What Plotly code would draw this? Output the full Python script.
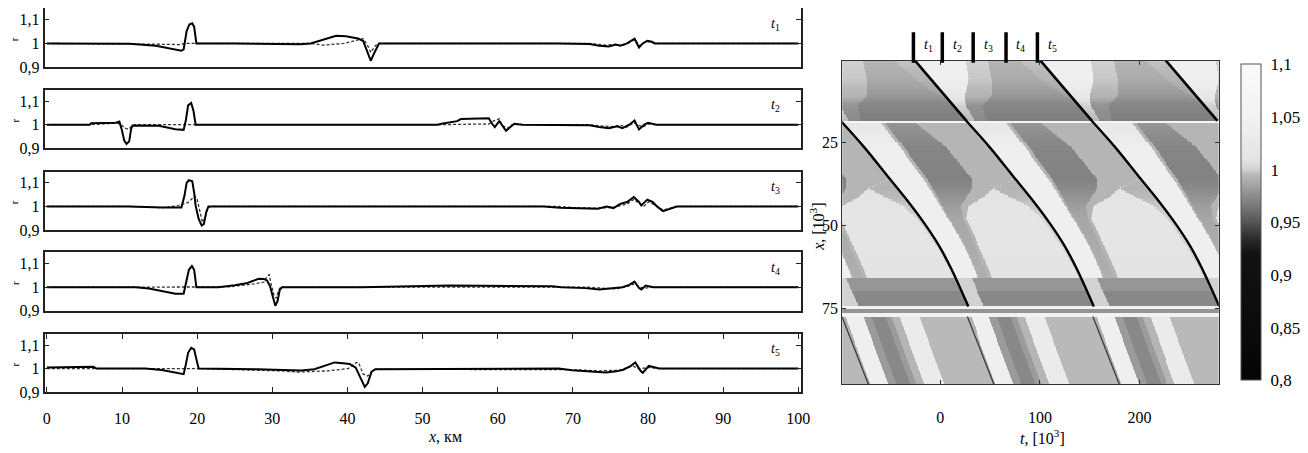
import numpy as np
import plotly.graph_objects as go

# ---------------- left panels: r(x) profiles ----------------
P1_SOLID_KM = [0, 8, 11, 14.5, 17.9, 18.2, 18.6, 18.96, 19.35, 19.6, 19.9, 25, 31.1, 33.7, 35.1, 37.2, 38.5, 39.8,
               41.4, 42.1, 42.7, 43.1, 43.6, 44.2, 67.8, 72.2, 73.5, 74.8, 75.7, 76.3, 77.2, 78.2, 78.8, 79.3, 79.9,
               80.5, 80.9, 100]
P1_SOLID_R = [1.0, 1.0, 0.999, 0.99, 0.969, 0.975, 1.052, 1.08, 1.085, 1.07, 1.0, 1.0, 0.997, 0.997, 1.0, 1.018, 1.032,
              1.03, 1.021, 1.01, 0.962, 0.927, 0.962, 1.0, 1.0, 0.998, 0.99, 0.987, 0.995, 0.99, 1.0, 1.02, 0.983, 1.0,
              1.011, 1.007, 1.0, 1.0]
P1_DASH_KM = [0, 11, 14, 17.9, 18.3, 19.9, 35.1, 36.8, 39.5, 41.2, 42.1, 42.7, 43.1, 43.7, 44.2, 72.2, 73.5, 74.4,
              75.5, 76.6, 77.5, 78.2, 78.9, 79.5, 80.2, 81, 100]
P1_DASH_R = [1.0, 1.0, 0.997, 0.995, 1.0, 1.0, 1.0, 0.993, 1.0, 1.013, 1.02, 0.99, 0.962, 0.99, 1.0, 1.0, 0.995, 0.993,
             0.996, 0.99, 1.003, 1.017, 0.99, 1.004, 1.008, 1.0, 1.0]

P2_SOLID_KM = [0, 5.7, 5.9, 9.2, 9.65, 9.96, 10.3, 10.6, 10.96, 11.2, 11.4, 14.9, 17.1, 18.2, 18.5, 18.8, 19.2, 19.5,
               19.8, 52.0, 52.5, 54.6, 55.1, 58.8, 59.2, 59.6, 60.2, 60.6, 61.1, 61.6, 62.2, 63.3, 67.8, 72.2, 73.5,
               74.8, 75.9, 76.6, 77.5, 78.2, 78.8, 79.5, 80.0, 80.7, 81.1, 100]
P2_SOLID_R = [1.0, 1.0, 1.006, 1.008, 1.013, 0.98, 0.932, 0.918, 0.929, 0.98, 0.997, 0.995, 0.981, 0.978, 1.02, 1.082,
              1.092, 1.06, 1.0, 1.0, 1.004, 1.015, 1.024, 1.027, 1.006, 0.99, 1.015, 0.997, 0.974, 0.988, 1.004, 1.0,
              1.0, 0.998, 0.99, 0.985, 0.993, 0.985, 1.0, 1.018, 0.98, 1.0, 1.008, 1.003, 1.0, 1.0]
P2_DASH_KM = [0, 5.7, 9.4, 10.0, 10.4, 10.9, 11.3, 11.8, 52.0, 54.6, 58.8, 59.4, 60.2, 60.6, 61.3, 61.9, 72.2, 73.5,
              75.2, 76.3, 77.2, 78.1, 78.7, 79.3, 80.0, 81.2, 100]
P2_DASH_R = [1.0, 1.0, 1.007, 0.997, 0.985, 0.98, 0.995, 1.0, 1.0, 1.0, 1.003, 1.015, 1.025, 0.997, 0.985, 1.0, 1.0,
             0.995, 0.992, 0.997, 0.99, 1.008, 1.0, 0.99, 1.003, 1.0, 1.0]

P3_SOLID_KM = [0, 11, 15.3, 17.9, 18.3, 18.6, 18.9, 19.35, 19.6, 19.8, 20.2, 20.6, 20.9, 21.2, 21.5, 66.1, 68.3, 70.6,
               73.3, 74.5, 75.4, 76.3, 77.2, 78.1, 78.8, 79.1, 79.9, 80.6, 81.3, 82.0, 82.9, 83.8, 100]
P3_SOLID_R = [1.0, 1.0, 0.996, 0.996, 1.044, 1.1, 1.111, 1.107, 1.058, 1.003, 0.947, 0.919, 0.926, 0.975, 1.0, 1.0,
              0.994, 0.991, 0.99, 1.0, 0.993, 1.011, 1.019, 1.04, 1.019, 1.004, 1.029, 1.019, 0.997, 0.98, 0.99, 1.0,
              1.0]
P3_DASH_KM = [0, 11, 15.3, 17.5, 18.8, 19.7, 20.0, 20.4, 20.7, 21.1, 21.4, 21.9, 68, 70.6, 73.3, 75.4, 77.2, 78.1,
              78.8, 79.4, 80.1, 81.2, 82, 83, 84, 100]
P3_DASH_R = [1.0, 1.0, 0.995, 1.003, 1.017, 1.044, 1.03, 0.975, 0.933, 0.954, 0.996, 1.0, 1.0, 0.994, 0.993, 0.996,
             1.01, 1.03, 1.012, 1.0, 1.02, 1.0, 0.985, 0.993, 1.0, 1.0]

P4_SOLID_KM = [0, 11.8, 13.6, 15.3, 17.1, 18.2, 18.5, 18.9, 19.3, 19.6, 19.9, 22.8, 25, 26.7, 28.2, 28.9, 29.3, 29.7,
               30.1, 30.4, 30.7, 31.0, 31.3, 41.9, 53.6, 67.2, 68.5, 71.7, 73.5, 75.3, 76.6, 77.5, 78.2, 78.8, 79.1,
               79.7, 80.3, 80.7, 100]
P4_SOLID_R = [1.0, 1.0, 0.994, 0.983, 0.972, 0.972, 1.011, 1.074, 1.09, 1.074, 1.0, 1.0, 1.008, 1.018, 1.036, 1.035,
              1.028, 1.004, 0.956, 0.921, 0.942, 0.99, 1.0, 1.0, 1.007, 1.004, 1.0, 0.996, 0.99, 0.996, 1.0, 1.01,
              1.024, 0.996, 0.99, 1.007, 1.004, 1.0, 1.0]
P4_DASH_KM = [0, 19.9, 24.1, 27.6, 28.9, 29.3, 29.6, 29.8, 30.2, 30.5, 30.8, 31.1, 71.7, 73.9, 75.7, 77.1, 78.2, 78.9,
              79.6, 80.5, 100]
P4_DASH_R = [1.0, 1.0, 1.001, 1.014, 1.022, 1.046, 1.053, 1.018, 0.969, 0.953, 0.983, 1.0, 1.0, 0.996, 0.993, 1.001,
             1.014, 1.0, 0.996, 1.0, 1.0]

P5_SOLID_KM = [0, 6.2, 6.6, 13.1, 15.3, 17.1, 18.2, 18.5, 18.8, 19.2, 19.6, 19.9, 20.2, 28, 31.1, 33.8, 35.6, 37,
               38.3, 39.4, 40.3, 41.1, 41.7, 42.3, 42.7, 43.2, 43.7, 47.8, 48.2, 68.1, 69.9, 72.6, 74.4, 75.8, 76.7,
               77.6, 78.3, 79.0, 79.3, 80.1, 80.8, 81.5, 100]
P5_SOLID_R = [1.004, 1.008, 1.0, 1.0, 0.994, 0.983, 0.976, 1.018, 1.067, 1.088, 1.081, 1.039, 1.0, 0.997, 0.993,
              0.992, 0.997, 1.011, 1.026, 1.022, 1.019, 1.004, 0.961, 0.922, 0.937, 0.986, 0.997, 0.997, 1.0, 1.0,
              0.993, 0.988, 0.983, 0.988, 0.995, 1.009, 1.026, 0.99, 0.982, 1.011, 1.006, 1.0, 1.0]
P5_DASH_KM = [0, 13.1, 20.2, 31.1, 33.4, 37.4, 40.1, 41.2, 41.5, 42.1, 42.7, 43.3, 43.8, 69.9, 73.5, 76.3, 77.9,
              78.8, 80.1, 81.4, 100]
P5_DASH_R = [1.0, 1.0, 1.0, 0.99, 0.985, 0.99, 1.0, 1.026, 1.023, 0.976, 0.968, 0.99, 0.997, 0.995, 0.99, 0.993,
             1.012, 0.998, 1.005, 1.0, 1.0]

PANEL_LABELS = ["1", "2", "3", "4", "5"]
X_TICKS = [0, 10, 20, 30, 40, 50, 60, 70, 80, 90, 100]
R_TICKS = [0.9, 1.0, 1.1]
R_TICK_TEXT = ["0,9", "1", "1,1"]

# ---------------- right panel: r(t, x) field ----------------
PERIOD = 126.0                      # spacing of the fronts in t
T_MARKS = [-27, 2, 33, 66, 97.5]    # t1..t5 markers above the map
# front positions (t at depth x) for the three layers
UP_FRONT_X = [0.0, 18.6]
UP_FRONT_T = [-27.0, 26.3]
MID_FRONT_X = [18.6, 26.5, 35, 42, 49.4, 56, 63, 72.5, 74.3]
MID_FRONT_T = [-100, -76.5, -53.5, -34.5, -16, -1.5, 11, 25.5, 28.2]
LOW_FRONT_X = [76.0, 98.0]
LOW_FRONT_T = [-98.8, -71.8]
# layer limits in x
UPPER_END, MID_END, DARK_END = 18.6, 66.0, 74.2
# gray levels behind each front (phase breakpoints and values), upper layer
UP_ROWS_X = [0, 6, 11, 14, 18.6]
UP_B = [[52, 75, 105], [38, 62, 110], [20, 48, 120], [12, 30, 124], [8, 20, 125]]
UP_V = [[1.04, 1.0, 0.993, 0.998], [1.04, 0.998, 0.988, 0.993], [1.02, 0.993, 0.98, 0.984],
        [1.0, 0.978, 0.972, 0.974], [0.995, 0.974, 0.968, 0.97]]
# middle layer
MID_ROWS_X = [18.6, 20, 26.5, 36, 39, 41.5, 44, 48, 56, 66]
MID_B = [[40, 44, 72, 125, 125.5], [38, 42, 74, 125, 125.5], [36, 40, 82, 125, 125.5], [33, 37, 82, 125, 125.5],
         [32, 35, 74, 96, 97], [30, 33, 62, 80, 106], [29, 31, 50, 58, 117], [27, 29, 42, 45, 122],
         [25, 27, 36, 40, 123], [22, 24, 33, 37, 124]]
MID_V = [[1.01, 0.993, 0.982, 0.993, 1.0, 0.993], [1.02, 0.993, 0.978, 0.993, 1.0, 0.993],
         [1.04, 0.993, 0.972, 0.993, 1.0, 0.993], [1.04, 0.993, 0.97, 0.993, 1.0, 0.993],
         [1.04, 0.993, 0.974, 0.993, 1.01, 0.993], [1.04, 0.993, 0.978, 0.993, 1.01, 0.995],
         [1.04, 0.992, 0.982, 0.993, 1.012, 0.998], [1.04, 0.99, 0.986, 0.993, 1.012, 1.0],
         [1.04, 0.99, 0.988, 0.993, 1.012, 1.0], [1.04, 0.992, 0.99, 0.993, 1.01, 1.0]]
# dark band layer
DARK_B = [16]
DARK_V = [[1.0, 0.979], [1.0, 0.973]]
DARK_SPLIT = 70.0
# lower layer
LOW_B = [2, 20, 28, 42, 48, 56, 76]
LOW_V = [0.99, 1.04, 0.981, 0.973, 0.981, 0.993, 1.03, 0.995]
# thin horizontal stripes (x0, x1, value)
STRIPES = [(18.6, 19.5, 1.07), (74.2, 75.0, 1.05), (75.0, 76.3, 0.978), (76.3, 77.3, 1.05)]

CB_TICKS = [0.8, 0.85, 0.9, 0.95, 1.0, 1.05, 1.1]
CB_TEXT = ["0,8", "0,85", "0,9", "0,95", "1", "1,05", "1,1"]
T_TICKS = [0, 100, 200]
XK_TICKS = [25, 50, 75]

# ---------------- build the map ----------------
T_GRID = np.arange(-99.0, 281.0, 1.0)
X_GRID = np.arange(0.0, 98.01, 0.4)


def profile_at(xv, rows_x, rows_b, rows_v):
    rb = np.asarray(rows_b, float)
    rv = np.asarray(rows_v, float)
    b = np.array([np.interp(xv, rows_x, rb[:, j]) for j in range(rb.shape[1])])
    v = np.array([np.interp(xv, rows_x, rv[:, j]) for j in range(rv.shape[1])])
    return b, v


Z = np.zeros((len(X_GRID), len(T_GRID)))
for i, xv in enumerate(X_GRID):
    if xv < UPPER_END:
        front = np.interp(xv, UP_FRONT_X, UP_FRONT_T)
        b, v = profile_at(xv, UP_ROWS_X, UP_B, UP_V)
    elif xv < MID_END:
        front = np.interp(xv, MID_FRONT_X, MID_FRONT_T)
        b, v = profile_at(xv, MID_ROWS_X, MID_B, MID_V)
    elif xv < DARK_END:
        front = np.interp(xv, MID_FRONT_X, MID_FRONT_T)
        b = np.asarray(DARK_B, float)
        v = np.asarray(DARK_V[0] if xv < DARK_SPLIT else DARK_V[1])
    else:
        front = np.interp(xv, LOW_FRONT_X, LOW_FRONT_T)
        b = np.asarray(LOW_B, float)
        v = np.asarray(LOW_V)
    phi = np.mod(T_GRID - front, PERIOD)
    Z[i] = v[np.searchsorted(b, phi, side='right')]
    for x0, x1, val in STRIPES:
        if x0 <= xv < x1:
            Z[i] = val

# ---------------- figure ----------------
W, H = 1308, 453
FONT = "Liberation Serif"


def fx(p):
    return p / W


def fy(p):
    return 1 - p / H


fig = go.Figure()
PANELS = [(P1_SOLID_KM, P1_SOLID_R, P1_DASH_KM, P1_DASH_R),
          (P2_SOLID_KM, P2_SOLID_R, P2_DASH_KM, P2_DASH_R),
          (P3_SOLID_KM, P3_SOLID_R, P3_DASH_KM, P3_DASH_R),
          (P4_SOLID_KM, P4_SOLID_R, P4_DASH_KM, P4_DASH_R),
          (P5_SOLID_KM, P5_SOLID_R, P5_DASH_KM, P5_DASH_R)]
PANEL_TOP = [8.5, 91.7, 175.0, 257.5, 340.5]
PANEL_BOT = [68.5, 151.2, 234.7, 317.0, 400.0]

layout_axes = {}
annotations = []
for i, (sx, sy, dx, dy) in enumerate(PANELS):
    k = i + 1
    xa = 'x' if k == 1 else f'x{k}'
    ya = 'y' if k == 1 else f'y{k}'
    fig.add_trace(go.Scatter(x=dx, y=dy, xaxis=xa, yaxis=ya, mode='lines',
                             line=dict(color='#333333', width=1.3, dash='3px,2px'),
                             showlegend=False, hoverinfo='skip'))
    fig.add_trace(go.Scatter(x=sx, y=sy, xaxis=xa, yaxis=ya, mode='lines',
                             line=dict(color='black', width=2.0), showlegend=False))
    xkey = 'xaxis' if k == 1 else f'xaxis{k}'
    ykey = 'yaxis' if k == 1 else f'yaxis{k}'
    last = (k == 5)
    layout_axes[xkey] = dict(
        domain=[fx(43), fx(806)], anchor=ya, range=[-0.3, 100.3],
        showline=True, linecolor='#222222', linewidth=1.6,
        mirror=('ticks' if last else (False if k == 1 else True)),
        ticks='inside' if last else '', ticklen=5, tickcolor='#222222',
        tickvals=X_TICKS if last else [], showticklabels=last,
        ticklabelstandoff=11,
        tickfont=dict(family=FONT, size=16, color='black'),
        showgrid=False, zeroline=False)
    layout_axes[ykey] = dict(
        domain=[fy(PANEL_BOT[i]), fy(PANEL_TOP[i])], anchor=xa, range=[0.9, 1.148],
        showline=True, linecolor='#222222', linewidth=1.6, mirror='ticks',
        ticks='inside', ticklen=5, tickcolor='#222222',
        tickvals=R_TICKS, ticktext=R_TICK_TEXT,
        tickfont=dict(family=FONT, size=16, color='black'),
        showgrid=False, zeroline=False)
    annotations.append(dict(x=96.9, y=1.08, xref=xa, yref=ya, showarrow=False,
                            xanchor='center', yanchor='middle',
                            text=f"<i>t</i><sub>{PANEL_LABELS[i]}</sub>",
                            font=dict(family=FONT, size=14, color='black')))
    annotations.append(dict(x=fx(13), y=1.017, xref='paper', yref=ya, showarrow=False,
                            xanchor='center', yanchor='middle', text="r", textangle=-90,
                            font=dict(family=FONT, size=11, color='black')))

# heatmap
CS = [[0.0, 'rgb(5,5,5)'], [0.4, 'rgb(18,18,18)'], [0.45, 'rgb(45,45,45)'], [0.5, 'rgb(85,85,85)'],
      [0.55, 'rgb(120,120,120)'], [0.5833, 'rgb(140,140,140)'], [0.6167, 'rgb(165,165,165)'],
      [0.65, 'rgb(185,185,185)'], [0.6667, 'rgb(210,210,210)'], [0.7, 'rgb(228,228,228)'],
      [0.8333, 'rgb(242,242,242)'], [1.0, 'rgb(250,250,250)']]
fig.add_trace(go.Heatmap(
    x=T_GRID, y=X_GRID, z=Z, xaxis='x6', yaxis='y6', colorscale=CS, zmin=0.8, zmax=1.1,
    hoverinfo='skip',
    colorbar=dict(x=fx(1250), xanchor='left', xpad=0, y=fy(227), yanchor='middle', ypad=0,
                  len=322 / H, lenmode='fraction', thickness=20, thicknessmode='pixels',
                  outlinewidth=1, outlinecolor='#555555',
                  tickvals=CB_TICKS, ticktext=CB_TEXT, ticks='outside', ticklen=6,
                  tickcolor='rgba(0,0,0,0)',
                  tickfont=dict(family=FONT, size=17, color='black'))))

# fronts
for k in range(3):
    fig.add_trace(go.Scatter(x=[t + PERIOD * k for t in UP_FRONT_T], y=UP_FRONT_X, xaxis='x6', yaxis='y6',
                             mode='lines', line=dict(color='black', width=2.6), showlegend=False, hoverinfo='skip'))
    fig.add_trace(go.Scatter(x=[t + PERIOD * k for t in MID_FRONT_T], y=MID_FRONT_X, xaxis='x6', yaxis='y6',
                             mode='lines', line=dict(color='black', width=2.4, shape='spline'),
                             showlegend=False, hoverinfo='skip'))
    fig.add_trace(go.Scatter(x=[t + PERIOD * k for t in LOW_FRONT_T], y=[77.3, LOW_FRONT_X[1]],
                             xaxis='x6', yaxis='y6', mode='lines',
                             line=dict(color='#3a3a3a', width=1.3), showlegend=False, hoverinfo='skip'))

layout_axes['xaxis6'] = dict(domain=[fx(848), fx(1228)], anchor='y6', range=[-98.5, 279.6],
                             showline=True, linecolor='#333333', linewidth=1.2, mirror='ticks',
                             ticks='inside', ticklen=4, tickcolor='#333333', tickvals=T_TICKS,
                             ticklabelstandoff=18,
                             tickfont=dict(family=FONT, size=16, color='black'), showgrid=False, zeroline=False)
layout_axes['yaxis6'] = dict(domain=[fy(392), fy(62)], anchor='x6', range=[97.65, 0.59],
                             showline=True, linecolor='#333333', linewidth=1.2, mirror='ticks',
                             ticks='inside', ticklen=4, tickcolor='#333333', tickvals=XK_TICKS,
                             tickfont=dict(family=FONT, size=16, color='black'), showgrid=False, zeroline=False)

shapes = []
for i, tm in enumerate(T_MARKS):
    shapes.append(dict(type='line', xref='x6', yref='paper', x0=tm, x1=tm, y0=fy(64), y1=fy(33),
                       line=dict(color='black', width=3.5)))
    annotations.append(dict(x=tm + 15, y=fy(46), xref='x6', yref='paper', showarrow=False,
                            xanchor='center', yanchor='middle',
                            text=f"<i>t</i><sub>{PANEL_LABELS[i]}</sub>",
                            font=dict(family=FONT, size=14, color='black')))

annotations.append(dict(x=fx(447), y=fy(445), xref='paper', yref='paper', showarrow=False,
                        xanchor='center', yanchor='middle',
                        text="<i>x</i>, км", font=dict(family=FONT, size=16, color='black')))
annotations.append(dict(x=fx(1050), y=fy(446), xref='paper', yref='paper', showarrow=False,
                        xanchor='center', yanchor='middle',
                        text="<i>t</i>, [10<sup>3</sup>]", font=dict(family=FONT, size=16, color='black')))
annotations.append(dict(x=fx(823), y=fy(231), xref='paper', yref='paper', showarrow=False, textangle=-90,
                        xanchor='center', yanchor='middle',
                        text="<i>x</i>, [10<sup>3</sup>]", font=dict(family=FONT, size=16, color='black')))

fig.update_layout(width=W, height=H, margin=dict(l=0, r=0, t=0, b=0),
                  paper_bgcolor='white', plot_bgcolor='white', showlegend=False,
                  annotations=annotations, shapes=shapes, **layout_axes)
fig.write_html("out.html")
